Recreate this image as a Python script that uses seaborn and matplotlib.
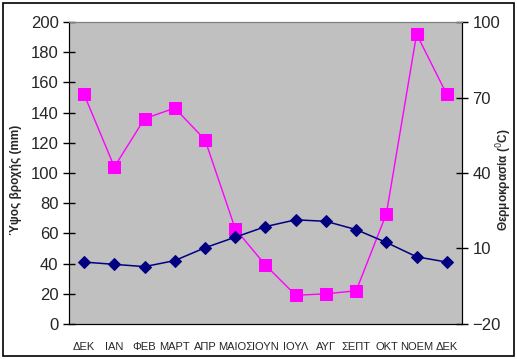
import numpy as np
import pandas as pd
import matplotlib
matplotlib.use("Agg")
import matplotlib.pyplot as plt
import seaborn as sns
from matplotlib.patches import Rectangle
from matplotlib.ticker import FixedLocator

months = ["ΔΕΚ", "ΙΑΝ", "ΦΕΒ", "ΜΑΡΤ", "ΑΠΡ", "ΜΑΙΟΣ", "ΙΟΥΝ",
          "ΙΟΥΛ", "ΑΥΓ", "ΣΕΠΤ", "ΟΚΤ", "ΝΟΕΜ", "ΔΕΚ"]
rain_mm = [152, 104, 136, 143, 122, 63, 39, 19, 20, 22, 73, 192, 152]
temp_c = [4.6, 3.7, 2.8, 5.2, 10.3, 14.5, 18.7, 21.4, 20.8, 17.5, 12.4, 6.7, 4.6]
rain_ticks = [0, 20, 40, 60, 80, 100, 120, 140, 160, 180, 200]
temp_ticks = [-20, 10, 40, 70, 100]

sns.set_style("white")
plt.rcParams['font.family'] = ['Liberation Sans', 'DejaVu Sans']

df = pd.DataFrame({"pos": np.arange(len(months)), "rain": rain_mm, "temp": temp_c})

fig = plt.figure(figsize=(5.17, 3.59), dpi=100)
ax = fig.add_axes([0.1335, 0.0975, 0.76, 0.8412])
ax.set_facecolor("#C0C0C0")
ax2 = ax.twinx()

sns.lineplot(data=df, x="pos", y="rain", ax=ax, color="#FF00FF", marker="s",
             markersize=9, markeredgecolor="#FF00FF", linewidth=1.0, zorder=3)
sns.lineplot(data=df, x="pos", y="temp", ax=ax2, color="#000080", marker="D",
             markersize=6, markeredgecolor="#000080", linewidth=1.1, zorder=3)
ax.set_zorder(0)
ax2.set_zorder(1)
ax2.patch.set_visible(False)

ax.set_xlim(-0.5, len(months) - 0.5)
ax.set_ylim(0, 200)
ax2.set_ylim(-20, 100)
ax.set_yticks(rain_ticks)
ax2.set_yticks(temp_ticks)

ax.set_xticks(df["pos"])
ax.set_xticklabels(months, fontsize=8)
ax.xaxis.set_minor_locator(FixedLocator(np.arange(-0.5, len(months), 1.0)))
ax.tick_params(axis="x", which="major", length=0, pad=13)
ax.tick_params(axis="x", which="minor", length=8, direction="inout", width=1, color="black")
ax.tick_params(axis="y", length=9, direction="inout", width=1, color="black", labelsize=12, pad=3)
ax2.tick_params(axis="y", length=9, direction="inout", width=1, color="black", labelsize=12, pad=3)

ax.set_xlabel("")
ax.set_ylabel("")
ax2.set_ylabel("")
fig.text(16 / 517, 0.5, "Ύψος βροχής (mm)", rotation=90, ha="center", va="center",
         fontsize=8.5, fontweight="bold")
fig.text(504 / 517, 0.5, "Θερμοκρασία ($^0$C)", rotation=90, ha="center", va="center",
         fontsize=8.5, fontweight="bold")

for a in (ax, ax2):
    a.spines["top"].set_color("#808080")
    a.spines["left"].set_color("black")
    a.spines["right"].set_color("black")
    a.spines["bottom"].set_color("black")

fig.patches.append(Rectangle((0.006, 0.008), 0.988, 0.985, transform=fig.transFigure,
                             fill=False, edgecolor="black", linewidth=1.2))

fig.savefig("out.png", dpi=100)
